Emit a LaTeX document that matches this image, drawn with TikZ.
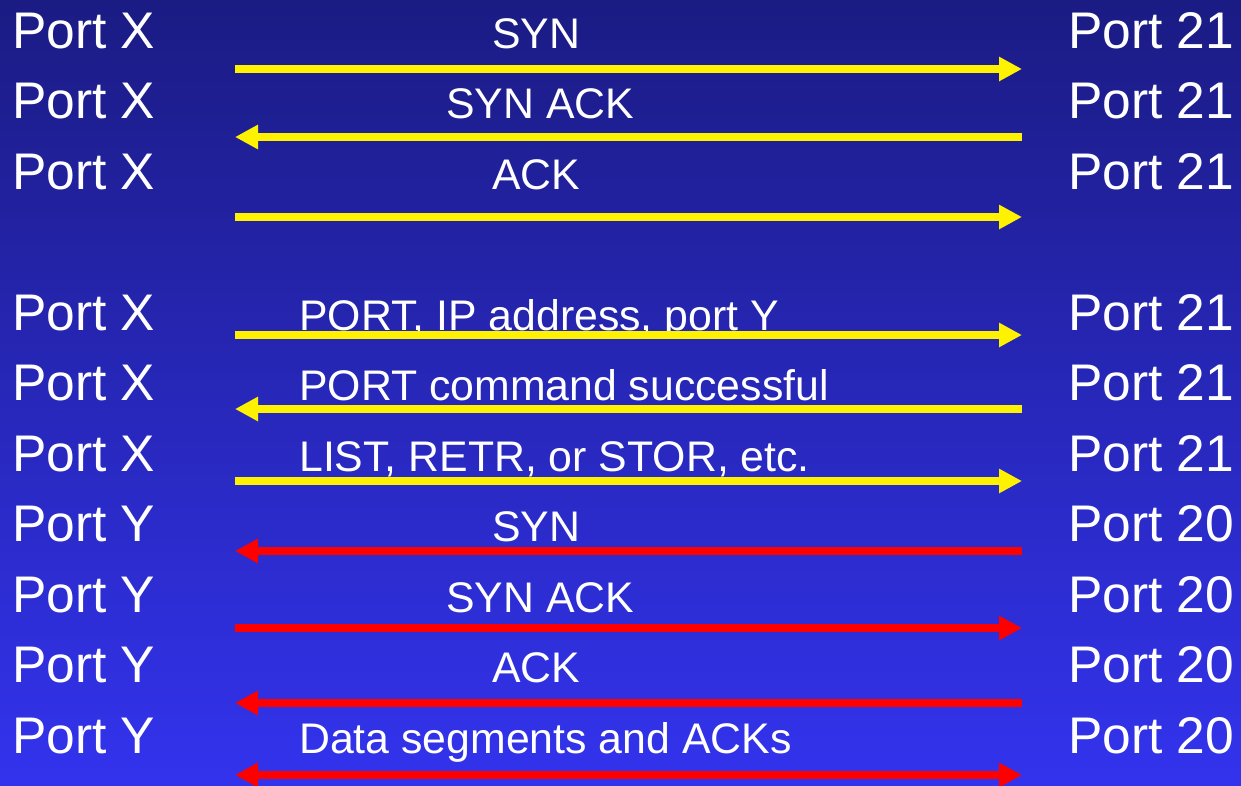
\documentclass[tikz,border=0pt]{standalone}
\usepackage{fontspec}
\setmainfont{Liberation Sans}
\usetikzlibrary{arrows.meta}
\definecolor{slidetop}{RGB}{27,27,132}
\definecolor{slidebot}{RGB}{51,51,238}
\tikzset{
  port/.style={anchor=base west, inner sep=0pt, text=white, font=\fontsize{51.5}{60}\selectfont},
  msg/.style={anchor=base west, inner sep=0pt, text=white, font=\fontsize{42.8}{50}\selectfont},
  ctrl/.style={yellow, line width=8pt},
  datac/.style={red, line width=8pt},
}
\begin{document}
\begin{tikzpicture}[x=1pt, y=-1pt, >={Triangle[length=23pt,width=23pt]}]
\shade[top color=slidetop, bottom color=slidebot] (0,0) rectangle (1241,785);
\useasboundingbox (0,0) rectangle (1241,785);

% client side
\node[port] (c1) at (12,48) {Port X};
\node[port] (c2) at (12,118.5) {Port X};
\node[port] (c3) at (12,189) {Port X};
\node[port] (c4) at (12,330) {Port X};
\node[port] (c5) at (12,400.5) {Port X};
\node[port] (c6) at (12,471) {Port X};
\node[port] (c7) at (12,541.5) {Port Y};
\node[port] (c8) at (12,612) {Port Y};
\node[port] (c9) at (12,682.5) {Port Y};
\node[port] (c10) at (12,753) {Port Y};

% server side
\node[port] (s1) at (1068,48) {Port 21};
\node[port] (s2) at (1068,118.5) {Port 21};
\node[port] (s3) at (1068,189) {Port 21};
\node[port] (s4) at (1068,330) {Port 21};
\node[port] (s5) at (1068,400.5) {Port 21};
\node[port] (s6) at (1068,471) {Port 21};
\node[port] (s7) at (1068,541.5) {Port 20};
\node[port] (s8) at (1068,612) {Port 20};
\node[port] (s9) at (1068,682.5) {Port 20};
\node[port] (s10) at (1068,753) {Port 20};

% messages
\node[msg] (m1) at (492,48) {SYN};
\node[msg] (m2) at (446,118.5) {SYN ACK};
\node[msg] (m3) at (492,189) {ACK};
\node[msg] (m4) at (299,330) {PORT, IP address, port Y};
\node[msg] (m5) at (299,400.5) {PORT command successful};
\node[msg] (m6) at (299,471) {LIST, RETR, or STOR, etc.};
\node[msg] (m7) at (492,541.5) {SYN};
\node[msg] (m8) at (446,612) {SYN ACK};
\node[msg] (m9) at (492,682.5) {ACK};
\node[msg] (m10) at (299,753) {Data segments and ACKs};

\foreach \n/\y in {1/69,2/137,3/217,4/335,5/409,6/481,7/551,8/628,9/703,10/775}{
  \coordinate (l\n) at (235,\y);
  \coordinate (r\n) at (1022,\y);
}
\draw[ctrl,->] (l1) -- (r1);
\draw[ctrl,->] (r2) -- (l2);
\draw[ctrl,->] (l3) -- (r3);
\draw[ctrl,->] (l4) -- (r4);
\draw[ctrl,->] (r5) -- (l5);
\draw[ctrl,->] (l6) -- (r6);
\draw[datac,->] (r7) -- (l7);
\draw[datac,->] (l8) -- (r8);
\draw[datac,->] (r9) -- (l9);
\draw[datac,<->] (l10) -- (r10);
\end{tikzpicture}
\end{document}
